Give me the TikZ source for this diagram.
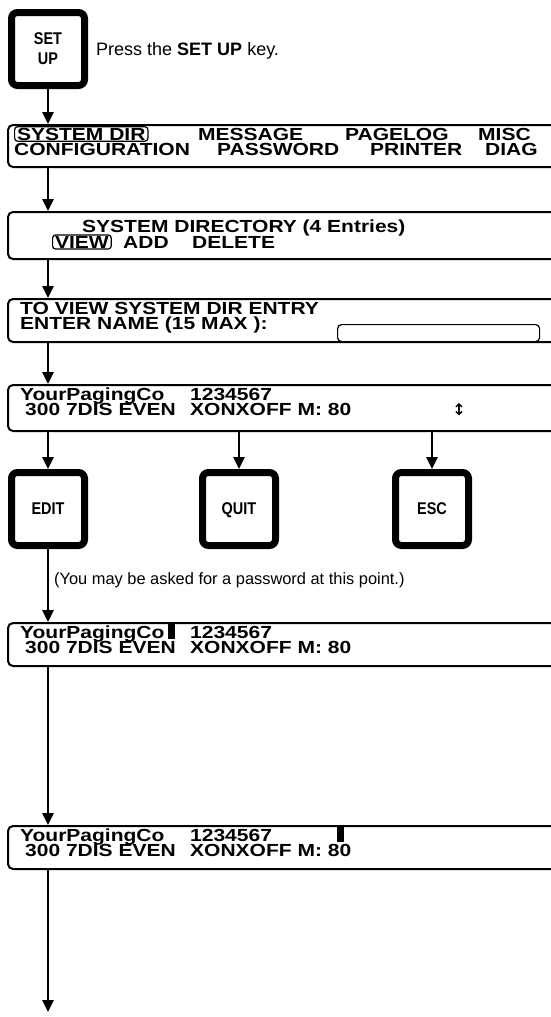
\documentclass[tikz,border=0pt]{standalone}
\usepackage{fontspec}
\setmainfont{Liberation Sans}
\newfontfamily\lcd{Liberation Sans}[FakeStretch=1.2]
\newfontfamily\keyfnt{Liberation Sans}[FakeStretch=0.85]
\newfontfamily\symb{DejaVu Sans}
\usetikzlibrary{arrows.meta}

\begin{document}
\begin{tikzpicture}[x=1pt,y=-1pt,
  key/.style={draw, line width=7pt, rounded corners=6pt, minimum width=73pt, minimum height=73pt,
    align=center, text depth=0pt, font=\keyfnt\bfseries\fontsize{17}{20}\selectfont},
  screen/.style={draw, line width=2pt, rounded corners=5pt, minimum width=560pt, anchor=north west, inner sep=0pt},
  txt/.style={anchor=base west, inner sep=0pt, font=\lcd\bfseries\fontsize{17.5}{15}\selectfont},
  sel/.style={txt, draw, line width=1.2pt, rounded corners=3pt, inner xsep=2.5pt, inner ysep=1pt},
  cursor/.style={fill, minimum width=7pt, minimum height=16pt, inner sep=0pt, anchor=south west},
  flow/.style={-{Triangle[width=11pt,length=12pt]}, line width=2.5pt}]
\useasboundingbox (0,0) rectangle (550,1017);

% SET UP key
\node[key] (setup) at (48,49) {SET\\UP};
\node[anchor=base west, inner sep=0pt, font=\fontsize{18}{18}\selectfont] (press) at (96,55) {Press the \textbf{SET UP} key.};

% Screen boxes
\node[screen, minimum height=42pt] (menu) at (7,124) {};
\node[screen, minimum height=47pt] (dir) at (7,211) {};
\node[screen, minimum height=43pt] (view) at (7,298) {};
\node[screen, minimum height=46pt] (entry) at (7,384) {};
\node[screen, minimum height=43pt] (editA) at (7,622) {};
\node[screen, minimum height=43pt] (editB) at (7,825) {};

% Main menu
\node[sel] (sysdir) at (14,140) {SYSTEM\,\,DIR};
\node[txt] (message) at (198,140) {MESSAGE};
\node[txt] (pagelog) at (345,140) {PAGELOG};
\node[txt] (misc) at (478,140) {MISC};
\node[txt] (config) at (14,155) {CONFIGURATION};
\node[txt] (passwd) at (217,155) {PASSWORD};
\node[txt] (printer) at (370,155) {PRINTER};
\node[txt] (diag) at (485,155) {DIAG};

% System directory
\node[txt] (dirhead) at (82,232) {SYSTEM DIRECTORY (4 Entries)};
\node[sel] (viewsel) at (52,248) {VIEW};
\node[txt] (add) at (123,248) {ADD};
\node[txt] (delete) at (192,248) {DELETE};

% Enter name
\node[txt] (toview) at (20,314) {TO VIEW SYSTEM DIR ENTRY};
\node[txt] (entername) at (20,329) {ENTER NAME (15 MAX ):};
\node[draw, line width=1.2pt, rounded corners=4pt, anchor=north west, minimum width=202pt,
  minimum height=17pt, inner sep=0pt] (namefield) at (337,324) {};

% Directory entry
\node[txt] (nameA) at (20,400) {YourPagingCo};
\node[txt] (numA) at (190,400) {1234567};
\node[txt] (setA) at (25,415) {300 7DIS EVEN};
\node[txt] (modeA) at (190,415) {XONXOFF M: 80};
\node[anchor=base, inner sep=0pt, font=\symb\bfseries\fontsize{16}{16}\selectfont] (updown) at (459,415) {↕};

% Keys
\node[key] (edit) at (48,509) {EDIT};
\node[key] (quit) at (239,509) {QUIT};
\node[key] (esc) at (432,509) {ESC};
\node[anchor=base west, inner sep=0pt, font=\fontsize{16.4}{16}\selectfont] (note) at (54,584) {(You may be asked for a password at this point.)};

% Editing the name
\node[txt] (nameB) at (20,638) {YourPagingCo};
\node[cursor] (curB) at ([xshift=3pt,yshift=-1pt]nameB.base east) {};
\node[txt] (numB) at (190,638) {1234567};
\node[txt] (setB) at (25,653) {300 7DIS EVEN};
\node[txt] (modeB) at (190,653) {XONXOFF M: 80};

% Editing the number
\node[txt] (nameC) at (20,841) {YourPagingCo};
\node[txt] (numC) at (190,841) {1234567};
\node[cursor] (curC) at (337,842) {};
\node[txt] (setC) at (25,856) {300 7DIS EVEN};
\node[txt] (modeC) at (190,856) {XONXOFF M: 80};

% Arrows
\coordinate (out) at (48,1012);
\draw[flow] (setup.south) -- (setup.south |- menu.north);
\draw[flow] (setup.south |- menu.south) -- (setup.south |- dir.north);
\draw[flow] (setup.south |- dir.south) -- (setup.south |- view.north);
\draw[flow] (setup.south |- view.south) -- (setup.south |- entry.north);
\draw[flow] (edit |- entry.south) -- (edit.north);
\draw[flow] (quit |- entry.south) -- (quit.north);
\draw[flow] (esc |- entry.south) -- (esc.north);
\draw[flow] (edit.south) -- (edit |- editA.north);
\draw[flow] (edit |- editA.south) -- (edit |- editB.north);
\draw[flow] (edit |- editB.south) -- (out);
\end{tikzpicture}
\end{document}
